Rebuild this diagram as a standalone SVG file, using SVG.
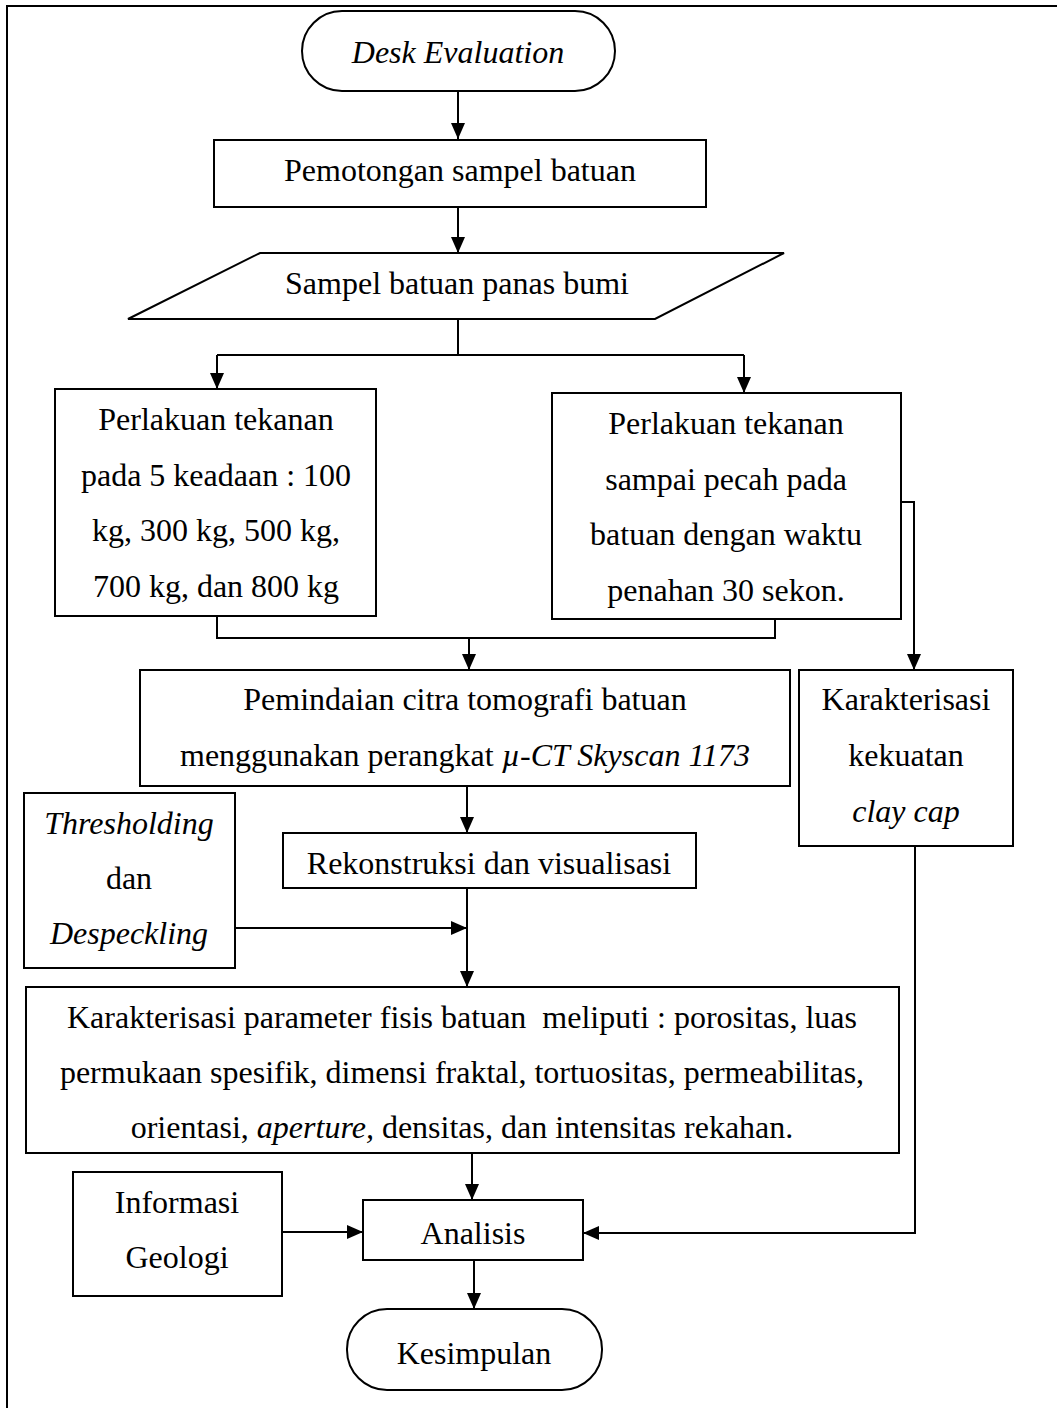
<svg xmlns="http://www.w3.org/2000/svg" width="1057" height="1408" viewBox="0 0 1057 1408">
<defs>
<marker id="arr" markerUnits="userSpaceOnUse" markerWidth="16" markerHeight="16" viewBox="0 0 16 16" refX="16" refY="8" orient="auto">
<path d="M0,1 L16,8 L0,15 Z" fill="#000"/>
</marker>
</defs>
<style>
.box{fill:#fff;stroke:#000;stroke-width:2}
.ln{fill:none;stroke:#000;stroke-width:2}
.ar{fill:none;stroke:#000;stroke-width:2;marker-end:url(#arr)}
text{font-family:"Liberation Serif","Times New Roman",serif;font-size:32px;fill:#000;text-anchor:middle;white-space:pre}
.i{font-style:italic}
</style>
<rect width="1057" height="1408" fill="#fff"/>
<path class="ln" d="M7,1408 V6 H1057"/>
<g id="connectors">
<path class="ar" d="M458,91 V139"/>
<path class="ar" d="M458,207 V253"/>
<path class="ln" d="M458,319 V355 M217,355 H744"/>
<path class="ar" d="M217,355 V389"/>
<path class="ar" d="M744,355 V393"/>
<path class="ln" d="M217,616 V638 H775 V619"/>
<path class="ar" d="M469,638 V670"/>
<path class="ar" d="M901,502 H914 V670"/>
<path class="ar" d="M467,786 V833"/>
<path class="ar" d="M467,888 V987"/>
<path class="ar" d="M235,928 H467"/>
<path class="ar" d="M472,1153 V1200"/>
<path class="ar" d="M282,1232 H363"/>
<path class="ar" d="M915,846 V1233 H583"/>
<path class="ar" d="M474,1260 V1309"/>
</g>
<g id="desk"><rect class="box" x="302" y="11" width="313" height="80" rx="40"/><text class="i" x="458" y="63">Desk Evaluation</text></g>
<g id="pemotongan"><rect class="box" x="214" y="140" width="492" height="67"/><text x="460" y="181">Pemotongan sampel batuan</text></g>
<g id="sampel"><path class="box" d="M260,253 H784 L655,319 H128 Z"/><text x="457" y="294">Sampel batuan panas bumi</text></g>
<g id="tekanan5"><rect class="box" x="55" y="389" width="321" height="227"/>
<text x="216" y="430">Perlakuan tekanan</text><text x="216" y="486">pada 5 keadaan : 100</text><text x="216" y="541">kg, 300 kg, 500 kg,</text><text x="216" y="597">700 kg, dan 800 kg</text></g>
<g id="tekananpecah"><rect class="box" x="552" y="393" width="349" height="226"/>
<text x="726" y="434">Perlakuan tekanan</text><text x="726" y="490">sampai pecah pada</text><text x="726" y="545">batuan dengan waktu</text><text x="726" y="601">penahan 30 sekon.</text></g>
<g id="pemindaian"><rect class="box" x="140" y="670" width="650" height="116"/>
<text x="465" y="710">Pemindaian citra tomografi batuan</text><text x="465" y="766">menggunakan perangkat <tspan class="i">µ-CT Skyscan 1173</tspan></text></g>
<g id="clay"><rect class="box" x="799" y="670" width="214" height="176"/>
<text x="906" y="710">Karakterisasi</text><text x="906" y="766">kekuatan</text><text class="i" x="906" y="822">clay cap</text></g>
<g id="rekonstruksi"><rect class="box" x="283" y="833" width="413" height="55"/><text x="489" y="874">Rekonstruksi dan visualisasi</text></g>
<g id="threshold"><rect class="box" x="24" y="793" width="211" height="175"/>
<text class="i" x="129" y="834">Thresholding</text><text x="129" y="889">dan</text><text class="i" x="129" y="944">Despeckling</text></g>
<g id="parameter"><rect class="box" x="26" y="987" width="873" height="166"/>
<text x="462" y="1028">Karakterisasi parameter fisis batuan  meliputi : porositas, luas</text>
<text x="462" y="1083">permukaan spesifik, dimensi fraktal, tortuositas, permeabilitas,</text>
<text x="462" y="1138">orientasi, <tspan class="i">aperture,</tspan> densitas, dan intensitas rekahan.</text></g>
<g id="informasi"><rect class="box" x="73" y="1172" width="209" height="124"/>
<text x="177" y="1213">Informasi</text><text x="177" y="1268">Geologi</text></g>
<g id="analisis"><rect class="box" x="363" y="1200" width="220" height="60"/><text x="473" y="1244">Analisis</text></g>
<g id="kesimpulan"><rect class="box" x="347" y="1309" width="255" height="81" rx="40"/><text x="474" y="1364">Kesimpulan</text></g>
</svg>
